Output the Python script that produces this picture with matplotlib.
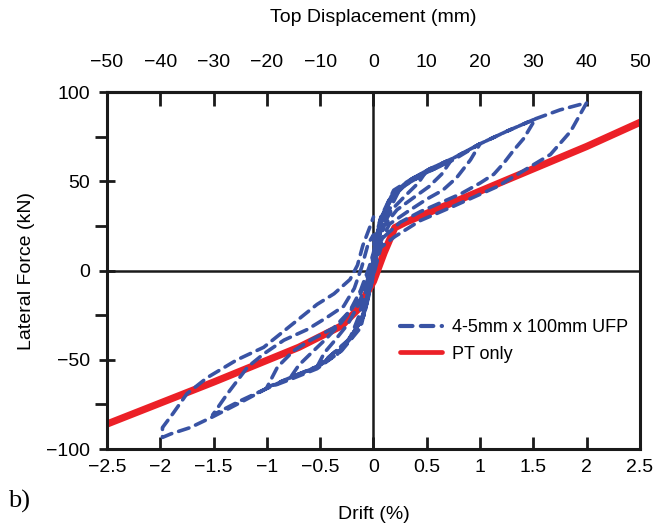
import matplotlib
matplotlib.use("Agg")
import matplotlib.pyplot as plt
from matplotlib.ticker import FixedLocator
from matplotlib.lines import Line2D

plt.rcParams['font.family'] = ['Liberation Sans', 'DejaVu Sans']

# ---------------- data ----------------
drift_ticks = [-2.5, -2, -1.5, -1, -0.5, 0, 0.5, 1, 1.5, 2, 2.5]
drift_labels = ['\u22122.5', '\u22122', '\u22121.5', '\u22121', '\u22120.5', '0', '0.5', '1', '1.5', '2', '2.5']
force_ticks = [-100, -50, 0, 50, 100]
force_labels = ['\u2212100', '\u221250', '0', '50', '100']
force_minor = [-75, -25, 25, 75]
disp_ticks = [-50, -40, -30, -20, -10, 0, 10, 20, 30, 40, 50]
disp_labels = ['\u221250', '\u221240', '\u221230', '\u221220', '\u221210', '0', '10', '20', '30', '40', '50']

# PT only (red)
pt_drift = [-2.5, -1.5, -0.7, -0.3, -0.15, 0.0, 0.1, 0.2, 0.3, 1.0, 2.0, 2.5]
pt_force = [-86, -62.5, -43, -31, -22, -6, 10, 24, 27, 44.5, 69.5, 83]

# UFP (blue dashed) - cycles
c010_d = [0, 0.05, 0.1, 0.06, 0.02, 0, -0.05, -0.1, -0.06, -0.02, 0]
c010_f = [-2, 18, 32, 24, 12, 2, -14, -26, -18, -8, 0]

c025_d = [0, 0.03, 0.08, 0.16, 0.25, 0.2, 0.14, 0.07, 0.02, -0.02, -0.08, -0.16, -0.25,
          -0.2, -0.14, -0.08, -0.03, 0]
c025_f = [0, 14, 28, 39, 46, 40, 33, 24, 12, -2, -22, -33, -41,
          -35, -26, -14, -2, 4]

c050_d = [0, 0.04, 0.1, 0.2, 0.35, 0.5, 0.42, 0.3, 0.17, 0.07, 0.02, -0.02, -0.08, -0.2, -0.34, -0.53,
          -0.46, -0.36, -0.24, -0.14, -0.06, 0]
c050_f = [4, 20, 33, 43, 51, 56, 49, 42, 34, 23, 10, -4, -24, -37, -47, -54,
          -46, -39, -30, -19, -6, 6]

c075_d = [0, 0.05, 0.14, 0.25, 0.5, 0.72, 0.64, 0.52, 0.38, 0.22, 0.1, 0.03, -0.02, -0.1, -0.22, -0.5, -0.78,
          -0.7, -0.58, -0.44, -0.3, -0.16, -0.07, 0]
c075_f = [6, 24, 38, 46, 55, 61, 54, 47, 41, 34, 25, 12, -5, -26, -38, -53, -60,
          -53, -46, -38, -29, -18, -6, 8]

c100_d = [0, 0.06, 0.16, 0.3, 0.5, 0.75, 1.0, 0.91, 0.78, 0.65, 0.5, 0.32, 0.15, 0.05, -0.02, -0.1, -0.25,
          -0.53, -0.78, -1.0, -0.9, -0.75, -0.59, -0.37, -0.22, -0.12, -0.04, 0]
c100_f = [8, 26, 40, 48, 55, 62, 71, 62, 52, 45, 40, 33, 26, 14, -6, -27, -40,
          -54, -60, -65.5, -54, -45, -39, -32, -22.5, -11, 2, 10]

c150_d = [0, 0.06, 0.17, 0.3, 0.53, 0.75, 1.0, 1.25, 1.52, 1.41, 1.31, 1.22, 1.13, 1.0, 0.82, 0.63, 0.44,
          0.25, 0.1, 0.02, -0.04, -0.12, -0.3, -0.53, -0.78, -1.0, -1.25, -1.51,
          -1.37, -1.18, -1.03, -0.84, -0.62, -0.43, -0.28, -0.18, -0.11, -0.05, 0]
c150_f = [10, 28, 42, 49, 57, 63, 71, 78, 85, 74, 67, 60, 54, 49, 43, 38, 33,
          27, 19, 5, -10, -30, -44, -54, -60, -66, -73, -81,
          -69, -54, -46.7, -39, -33, -26, -20, -10, 2, 15, 20]

c200_d = [0, 0.07, 0.19, 0.35, 0.53, 0.75, 1.0, 1.25, 1.52, 1.75, 2.0,
          1.85, 1.66, 1.41, 1.16, 0.75, 0.44, 0.2, 0.07, 0.02, -0.04, -0.12, -0.3, -0.53, -0.78,
          -1.0, -1.25, -1.51, -1.72, -1.9, -1.98,
          -1.98, -1.88, -1.75, -1.56, -1.28, -1.03, -0.78, -0.53, -0.37, -0.22, -0.15, -0.1, -0.03, 0]
c200_f = [14, 30, 45, 51, 57, 63, 71, 78, 85, 90, 94,
          78, 65, 56, 47, 36, 28, 19, 13, 2, -12, -32, -45, -55, -61,
          -66, -74, -82, -88, -91.5, -93.5,
          -88, -80, -69, -60, -50, -43, -31, -19, -13, -5, 3, 14, 25, 30]

ufp_cycles = [(c010_d, c010_f), (c025_d, c025_f), (c050_d, c050_f), (c075_d, c075_f),
              (c100_d, c100_f), (c150_d, c150_f), (c200_d, c200_f)]

# ---------------- figure ----------------
blue = '#3953a4'
red = '#ec2027'
ink = '#1a1a1a'

fig = plt.figure(figsize=(6.55, 5.29), dpi=100)
ax = fig.add_axes([0.1634, 0.1512, 0.8136, 0.6748])

ax.axhline(0, color=ink, lw=1.8, zorder=1)
ax.axvline(0, color=ink, lw=1.8, zorder=1)

ax.plot(pt_drift, pt_force, color=red, lw=5.2, solid_capstyle='round', solid_joinstyle='round', zorder=2)

ud, uf = [], []
for d, f in ufp_cycles:
    ud += d
    uf += f
ax.plot(ud, uf, color=blue, lw=2.6, dashes=(3.0, 2.0), dash_capstyle='round',
        dash_joinstyle='round', zorder=3)

ax.set_xlim(-2.5, 2.5)
ax.set_ylim(-100, 100)

for s in ax.spines.values():
    s.set_linewidth(2.2)
    s.set_color(ink)

ax.xaxis.set_major_locator(FixedLocator(drift_ticks))
ax.set_xticklabels(drift_labels)
ax.yaxis.set_major_locator(FixedLocator(force_ticks))
ax.set_yticklabels(force_labels)
ax.yaxis.set_minor_locator(FixedLocator(force_minor))

ax.tick_params(axis='x', which='major', direction='in', length=9, width=2, labelsize=14, pad=7, color=ink)
ax.tick_params(axis='y', which='major', direction='inout', length=12, width=2, labelsize=14, pad=6, color=ink)
ax.tick_params(axis='y', which='minor', direction='out', length=9, width=2, color=ink)

ax.set_xlabel('Drift (%)', fontsize=14, labelpad=22)
ax.set_ylabel('Lateral Force (kN)', fontsize=14, labelpad=8)

top = ax.secondary_xaxis('top', functions=(lambda d: d * 20, lambda m: m / 20))
top.xaxis.set_major_locator(FixedLocator(disp_ticks))
top.set_xticklabels(disp_labels)
top.tick_params(direction='in', length=10, width=2, labelsize=14, pad=15, color=ink)
top.spines['top'].set_linewidth(2.2)
top.set_xlabel('Top Displacement (mm)', fontsize=14, labelpad=23)

handles = [Line2D([], [], color=blue, lw=3.0, dashes=(3.0, 2.0), dash_capstyle='round'),
           Line2D([], [], color=red, lw=3.4, solid_capstyle='round')]
ax.legend(handles, ['4-5mm x 100mm UFP', 'PT only'], loc='center left',
          bbox_to_anchor=(0.55, 0.303), frameon=False, fontsize=13, borderaxespad=0,
          borderpad=0, handlelength=2.3, handletextpad=0.6, labelspacing=0.55)

fig.text(0.012, 0.04, 'b)', fontsize=19, family=['Liberation Serif', 'DejaVu Serif'])

fig.savefig('out.png', dpi=100)
